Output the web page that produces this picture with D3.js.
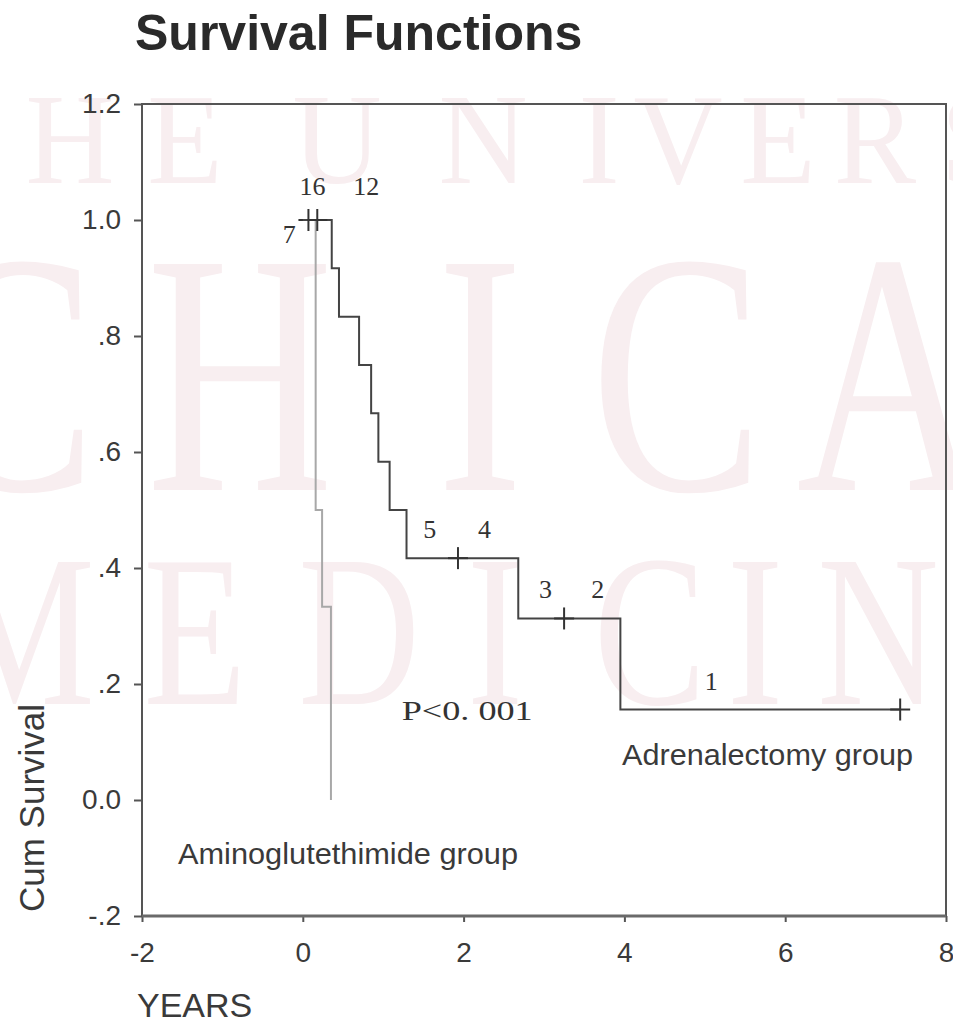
<!DOCTYPE html>
<meta charset="utf-8">
<style>
    body { margin: 0; background: #fff; }
    text { font-family: "Liberation Sans", Arial, sans-serif; }
    .tick text { fill: #3a3a3a; font-size: 28px; }
    .tick line { stroke: #555; stroke-width: 2px; }
    .num { font-family: "Liberation Serif", "DejaVu Serif", serif; fill: #333; }
</style>
<body>
<script src="https://d3js.org/d3.v7.min.js"></script>
<script>

// Adrenalectomy group (step function)
var adrenTimes = [0, 0.36, 0.45, 0.70, 0.85, 0.94, 1.08, 1.29, 2.68, 3.95, 7.43];
var adrenSurv  = [1.0, 0.917, 0.833, 0.75, 0.667, 0.583, 0.5, 0.417, 0.313, 0.156, 0.156];
var adrenCensor = [0.18, 1.93, 3.25, 7.43];

// Aminoglutethimide group
var aminoTimes = [0, 0.16, 0.24, 0.35];
var aminoSurv  = [1.0, 0.5, 0.333, 0];
var aminoCensor = [0.07];

// numbers at risk written above the curves
var riskText = ["16", "12", "7", "5", "4", "3", "2", "1"];
var riskX    = [0.12, 0.79, -0.17, 1.58, 2.26, 3.02, 3.67, 5.08];
var riskY    = [1.043, 1.043, 0.96, 0.452, 0.452, 0.348, 0.348, 0.19];

var xTicks = [-2, 0, 2, 4, 6, 8];
var yTicks = [-0.2, 0, 0.2, 0.4, 0.6, 0.8, 1.0, 1.2];

var W = 953, H = 1023;
var plot = {left: 142, right: 946, top: 104, bottom: 916};

var svg = d3.select("body").append("svg")
    .attr("width", W)
    .attr("height", H);

svg.append("rect").attr("width", W).attr("height", H).attr("fill", "#fff");

// faint watermark behind the chart
var wm = [
    {y: 183, size: 130, sx: 0.95, chars: "HEUNIVERS", cx: [70, 185, 337, 483, 599, 678, 778, 875, 975]},
    {y: 490, size: 345, sx: 0.75, chars: "CHICAGO", cx: [10, 240, 480, 677, 890]},
    {y: 704, size: 216, sx: 0.78, chars: "MEDICIN", cx: [20, 195, 359, 495, 650, 755, 878]}
];
wm.forEach(function(r) {
    var g = svg.append("g")
        .attr("transform", "scale(" + r.sx + ",1)");
    r.cx.forEach(function(c, i) {
        g.append("text")
            .attr("x", c / r.sx)
            .attr("y", r.y)
            .attr("text-anchor", "middle")
            .style("font-family", "'Liberation Serif', serif")
            .style("font-size", r.size + "px")
            .attr("fill", "#f8eef0")
            .text(r.chars[i]);
    });
});

var x = d3.scaleLinear().domain([-2, 8]).range([plot.left, plot.right]);
var y = d3.scaleLinear().domain([-0.2, 1.2]).range([plot.bottom, plot.top]);

// title
svg.append("text")
    .attr("x", 135)
    .attr("y", 50)
    .style("font-size", "50px")
    .style("font-weight", "bold")
    .attr("fill", "#2a2a2a")
    .text("Survival Functions");

// axes (plain hyphen for negatives, SPSS style ".8")
var yFmt = function(d) {
    if (Math.abs(d) < 1e-9) return "0.0";
    var s = Math.abs(d).toFixed(1);
    if (Math.abs(d) < 1) s = s.slice(1);
    return (d < 0 ? "-" : "") + s;
};
var xFmt = function(d) { return (d < 0 ? "-" : "") + Math.abs(d); };

svg.append("g")
    .attr("transform", "translate(" + plot.left + ",0)")
    .call(d3.axisLeft(y).tickValues(yTicks).tickFormat(yFmt).tickSize(8).tickPadding(13))
    .call(function(g) { g.select(".domain").remove(); });

svg.append("g")
    .attr("transform", "translate(0," + plot.bottom + ")")
    .call(d3.axisBottom(x).tickValues(xTicks).tickFormat(xFmt).tickSize(6).tickPadding(20))
    .call(function(g) { g.select(".domain").remove(); });

// frame
svg.append("rect")
    .attr("x", plot.left).attr("y", plot.top)
    .attr("width", plot.right - plot.left)
    .attr("height", plot.bottom - plot.top)
    .attr("fill", "none")
    .attr("stroke", "#555")
    .attr("stroke-width", 2);
svg.append("line")
    .attr("x1", plot.left).attr("x2", plot.right)
    .attr("y1", plot.bottom).attr("y2", plot.bottom)
    .attr("stroke", "#6a6a6a")
    .attr("stroke-width", 3);

// axis titles
svg.append("text")
    .attr("x", 137)
    .attr("y", 1017)
    .style("font-size", "34px")
    .attr("fill", "#3a3a3a")
    .text("YEARS");

svg.append("text")
    .attr("transform", "translate(44,808) rotate(-90)")
    .attr("text-anchor", "middle")
    .style("font-size", "35px")
    .attr("fill", "#3a3a3a")
    .text("Cum Survival");

// curves
var line = d3.line()
    .x(function(d) { return x(d[0]); })
    .y(function(d) { return y(d[1]); })
    .curve(d3.curveStepAfter);

function stepValue(times, surv, t) {
    var v = surv[0];
    for (var i = 0; i < times.length; i++) {
        if (times[i] <= t) v = surv[i];
    }
    return v;
}

var groups = [
    {times: aminoTimes, surv: aminoSurv, censor: aminoCensor, color: "#a8a8a8"},
    {times: adrenTimes, surv: adrenSurv, censor: adrenCensor, color: "#444"}
];

groups.forEach(function(s) {
    svg.append("path")
        .datum(d3.zip(s.times, s.surv))
        .attr("d", line)
        .attr("fill", "none")
        .attr("stroke", s.color)
        .attr("stroke-width", 2);

    var marks = svg.append("g").selectAll("g")
        .data(s.censor)
        .enter().append("g")
        .attr("transform", function(t) {
            return "translate(" + x(t) + "," + y(stepValue(s.times, s.surv, t)) + ")";
        });
    marks.append("line").attr("x1", -10).attr("x2", 10)
        .attr("stroke", "#333").attr("stroke-width", 2);
    marks.append("line").attr("y1", -11).attr("y2", 11)
        .attr("stroke", "#333").attr("stroke-width", 2);
});

// numbers at risk
svg.append("g").selectAll("text")
    .data(riskText)
    .enter().append("text")
    .attr("class", "num")
    .attr("x", function(d, i) { return x(riskX[i]); })
    .attr("y", function(d, i) { return y(riskY[i]); })
    .attr("text-anchor", "middle")
    .style("font-size", "26px")
    .text(function(d) { return d; });

svg.append("text")
    .attr("class", "num")
    .attr("x", x(1.23))
    .attr("y", y(0.138))
    .style("font-size", "28px")
    .attr("textLength", 131)
    .attr("lengthAdjust", "spacingAndGlyphs")
    .text("P<0. 001");

// group labels
svg.append("text")
    .attr("x", 622)
    .attr("y", 765)
    .style("font-size", "29px")
    .attr("fill", "#3a3a3a")
    .attr("textLength", 291)
    .attr("lengthAdjust", "spacingAndGlyphs")
    .text("Adrenalectomy group");

svg.append("text")
    .attr("x", 178)
    .attr("y", 864)
    .style("font-size", "29px")
    .attr("fill", "#3a3a3a")
    .attr("textLength", 340)
    .attr("lengthAdjust", "spacingAndGlyphs")
    .text("Aminoglutethimide group");

</script>
</body>
